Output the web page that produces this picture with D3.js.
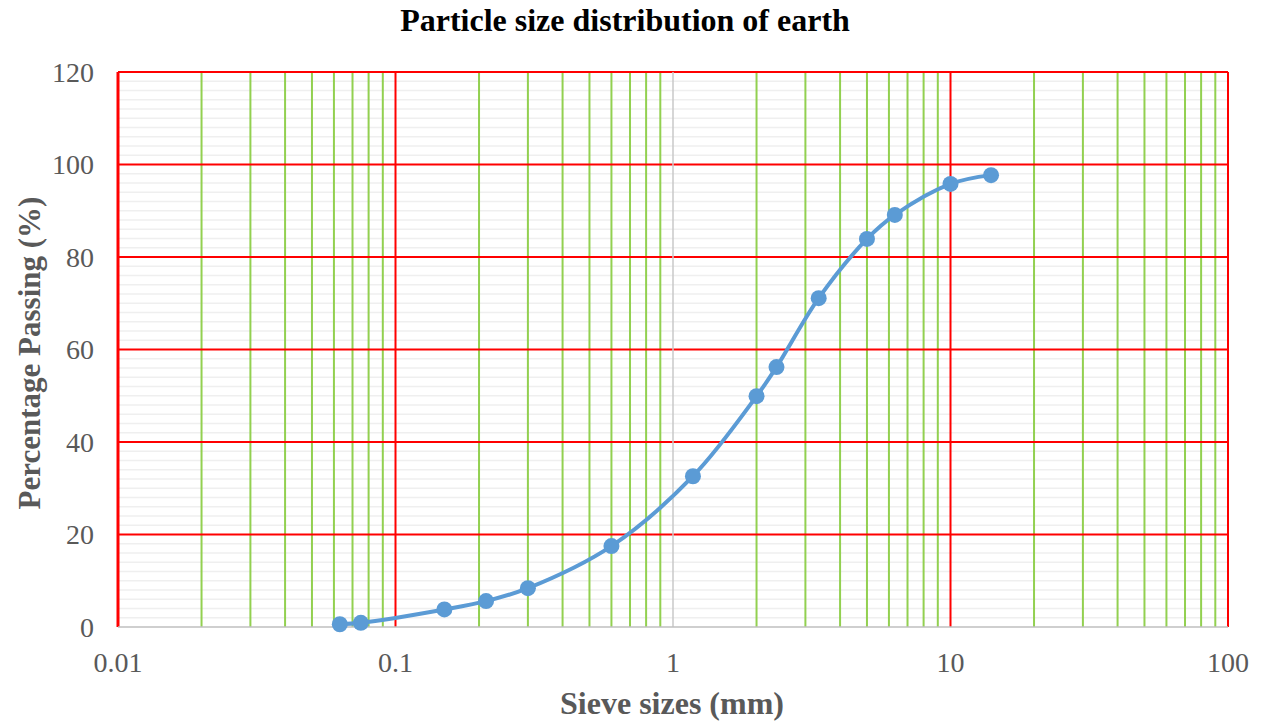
<!DOCTYPE html>
<html>
<head>
<meta charset="utf-8">
<script src="https://cdn.jsdelivr.net/npm/d3@7/dist/d3.min.js"></script>
<style>
  html, body { margin: 0; padding: 0; background: #fff; }
  svg { display: block; }
</style>
</head>
<body>
<svg id="chart" width="1264" height="724"></svg>
<script>
// Sieve analysis results
const sieveSizes = [0.063, 0.075, 0.15, 0.212, 0.3, 0.6, 1.18, 2.0, 2.36, 3.35, 5.0, 6.3, 10, 14];
const percentPassing = [0.6, 0.9, 3.8, 5.6, 8.4, 17.5, 32.6, 49.9, 56.2, 71.1, 83.9, 89.1, 95.8, 97.7];
const xTicks = [0.01, 0.1, 1, 10, 100];
const xTickLabels = ["0.01", "0.1", "1", "10", "100"];
const yTicks = [0, 20, 40, 60, 80, 100, 120];

const svg = d3.select("#chart");
const m = { left: 118, right: 1228, top: 72, bottom: 627 };

const x = d3.scaleLog().domain([0.01, 100]).range([m.left, m.right]);
const y = d3.scaleLinear().domain([0, 120]).range([m.bottom, m.top]);

const serif = "'Liberation Serif', 'Times New Roman', serif";

// Minor horizontal grid every 2 %
const minorY = d3.range(2, 120, 2).filter(v => v % 20 !== 0);
svg.append("g").selectAll("line").data(minorY).join("line")
  .attr("x1", m.left).attr("x2", m.right)
  .attr("y1", d => y(d)).attr("y2", d => y(d))
  .attr("stroke", "#efefef").attr("stroke-width", 1.5);

// Minor vertical grid at 2..9 of each decade
const minorX = [];
[0.01, 0.1, 1, 10].forEach(dec => { for (let k = 2; k <= 9; k++) minorX.push(dec * k); });
svg.append("g").selectAll("line").data(minorX).join("line")
  .attr("x1", d => x(d)).attr("x2", d => x(d))
  .attr("y1", m.top).attr("y2", m.bottom)
  .attr("stroke", "#92d050").attr("stroke-width", 2);

// Major horizontal grid
svg.append("g").selectAll("line").data(yTicks.filter(v => v > 0)).join("line")
  .attr("x1", m.left).attr("x2", m.right)
  .attr("y1", d => y(d)).attr("y2", d => y(d))
  .attr("stroke", "#ff0000").attr("stroke-width", 2);

// Major vertical grid
svg.append("g").selectAll("line").data(xTicks.filter(v => v !== 1)).join("line")
  .attr("x1", d => x(d)).attr("x2", d => x(d))
  .attr("y1", m.top).attr("y2", m.bottom)
  .attr("stroke", "#ff0000").attr("stroke-width", d => d === 0.01 ? 3 : 2);

// Vertical axis line crossing at 1 mm
svg.append("line")
  .attr("x1", x(1)).attr("x2", x(1)).attr("y1", m.top).attr("y2", m.bottom)
  .attr("stroke", "#c8c8c8").attr("stroke-width", 1.5);

// Horizontal axis line
svg.append("line")
  .attr("x1", m.left).attr("x2", m.right).attr("y1", m.bottom).attr("y2", m.bottom)
  .attr("stroke", "#bfbfbf").attr("stroke-width", 1.5);

// Tick labels
svg.append("g").selectAll("text").data(yTicks).join("text")
  .attr("x", 94).attr("y", d => y(d))
  .attr("dy", "0.35em")
  .attr("text-anchor", "end")
  .attr("font-family", serif).attr("font-size", 28).attr("fill", "#595959")
  .text(d => d);

svg.append("g").selectAll("text").data(xTicks).join("text")
  .attr("x", d => x(d)).attr("y", 672)
  .attr("text-anchor", "middle")
  .attr("font-family", serif).attr("font-size", 28).attr("fill", "#595959")
  .text((d, i) => xTickLabels[i]);

// Titles
svg.append("text")
  .attr("x", 625).attr("y", 31)
  .attr("text-anchor", "middle")
  .attr("font-family", serif).attr("font-size", 32).attr("font-weight", "bold").attr("fill", "#000")
  .text("Particle size distribution of earth");

svg.append("text")
  .attr("x", 672).attr("y", 714)
  .attr("text-anchor", "middle")
  .attr("font-family", serif).attr("font-size", 32).attr("font-weight", "bold").attr("fill", "#595959")
  .text("Sieve sizes (mm)");

svg.append("text")
  .attr("transform", "translate(40,353) rotate(-90)")
  .attr("text-anchor", "middle")
  .attr("font-family", serif).attr("font-size", 31).attr("font-weight", "bold").attr("fill", "#595959")
  .text("Percentage Passing (%)");

// Grading curve
const pts = sieveSizes.map((s, i) => [s, percentPassing[i]]);
const line = d3.line()
  .x(d => x(d[0])).y(d => y(d[1]))
  .curve(d3.curveCatmullRom.alpha(0.5));

svg.append("path")
  .datum(pts)
  .attr("d", line)
  .attr("fill", "none")
  .attr("stroke", "#5b9bd5").attr("stroke-width", 4)
  .attr("stroke-linecap", "round");

svg.append("g").selectAll("circle").data(pts).join("circle")
  .attr("cx", d => x(d[0])).attr("cy", d => y(d[1]))
  .attr("r", 8)
  .attr("fill", "#5b9bd5");
</script>
</body>
</html>
